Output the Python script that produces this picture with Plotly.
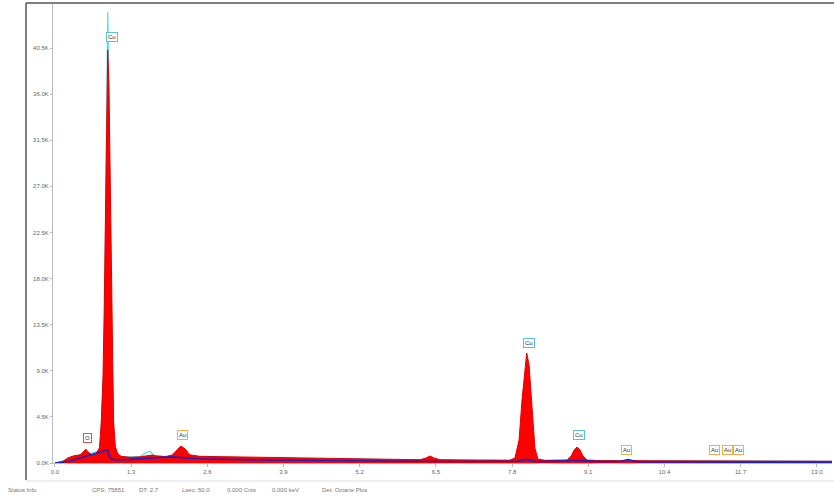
import plotly.graph_objects as go

# ---------------- data ----------------
# main spectrum (red, filled): energy keV / counts
spec_kev = [0.00, 0.12, 0.22, 0.32, 0.43, 0.49, 0.53, 0.56, 0.63, 0.70, 0.76, 0.79, 0.82, 0.84, 0.86,
            0.88, 0.90, 0.92, 0.94, 0.96, 0.98, 1.00, 1.03, 1.07, 1.13, 1.28, 1.45, 1.59, 1.66, 1.72, 1.88,
            2.00, 2.08, 2.15, 2.22, 2.30, 2.47, 2.99, 3.67, 4.52, 5.55, 6.23, 6.33, 6.40, 6.47, 6.57,
            7.25, 7.76, 7.85, 7.92, 7.97, 8.02, 8.05, 8.09, 8.14, 8.19, 8.24, 8.36, 8.74, 8.81, 8.86,
            8.91, 8.96, 9.01, 9.08, 9.30, 9.64, 9.78, 9.98, 11.00, 11.69, 13.26]
spec_cnt = [0, 100, 500, 700, 800, 1100, 1350, 1100, 800, 900, 1500, 4000, 8500, 15000, 24000,
            34500, 40300, 37000, 28500, 18000, 9000, 4000, 1600, 900, 650, 550, 600, 700, 780, 700, 620,
            780, 1270, 1660, 1370, 800, 650, 600, 520, 420, 360, 320, 480, 680, 480, 320,
            280, 270, 490, 2250, 6150, 9560, 10740, 9560, 5170, 1460, 390, 260, 290, 680, 1270,
            1560, 1270, 680, 290, 230, 220, 250, 220, 190, 180, 170]

# background / fit (blue line)
bg_kev = [0.00, 0.17, 0.26, 0.43, 0.60, 0.77, 0.89, 0.94, 1.02, 1.28, 1.62, 1.96, 2.17, 2.47, 3.50,
          5.03, 6.74, 7.90, 8.05, 8.20, 8.28, 8.91, 9.30, 9.65, 9.78, 9.90, 9.98, 13.26]
bg_cnt = [0, 100, 200, 490, 780, 1070, 1270, 490, 290, 350, 450, 600, 520, 420, 300,
          200, 150, 170, 350, 170, 130, 260, 130, 160, 330, 160, 100, 70]

# overlay spectrum (cyan outline)
ov_kev = [0.00, 0.50, 0.77, 0.84, 0.88, 0.90, 0.92, 0.96, 1.01, 1.10, 1.45, 1.55, 1.62, 1.70, 2.00,
          3.00, 6.00, 8.00, 13.26]
ov_cnt = [0, 800, 1200, 10000, 35000, 44000, 36000, 12000, 1500, 600, 600, 1000, 1150, 700, 600,
          500, 300, 250, 150]

# peak labels
lbl_text = ["O", "Cu", "Au", "Cu", "Cu", "Au", "Au", "Au", "Au"]
lbl_kev = [0.56, 0.97, 2.18, 8.09, 8.94, 9.76, 11.25, 11.47, 11.66]
lbl_cnt = [2440, 41600, 2730, 11700, 2730, 1270, 1270, 1270, 1270]
lbl_col = ["#e05050", "#5bc0de", "#f0ad4e", "#5bc0de", "#5bc0de", "#f0ad4e", "#f0ad4e", "#f0ad4e", "#f0ad4e"]

x_ticks = [0.0, 1.3, 2.6, 3.9, 5.2, 6.5, 7.8, 9.1, 10.4, 11.7, 13.0]
x_labels = ["0.0", "1.3", "2.6", "3.9", "5.2", "6.5", "7.8", "9.1", "10.4", "11.7", "13.0"]
y_ticks = [0, 4500, 9000, 13500, 18000, 22500, 27000, 31500, 36000, 40500]
y_labels = ["0.0K", "4.5K", "9.0K", "13.5K", "18.0K", "22.5K", "27.0K", "31.5K", "36.0K", "40.5K"]

status_text = ["Status Info", "CPS: 75851", "DT: 2.7", "Lsec: 50.0", "0.000 Cnts", "0.000 keV", "Det: Octane Plus"]
status_px = [6, 90, 137, 180, 225, 270, 320]

# ---------------- layout helpers ----------------
W, H = 834, 499
L, R, T, B = 53, 2, 4, 36
PW, PH = W - L - R, H - T - B


def px(x):
    return (x - L) / PW


def py(y):
    return (H - B - y) / PH


fig = go.Figure()
fig.add_trace(go.Scatter(x=ov_kev, y=ov_cnt, mode="lines",
                         line=dict(color="#40e0f0", width=1.2), hoverinfo="skip"))
fig.add_trace(go.Scatter(x=spec_kev, y=spec_cnt, mode="lines", fill="tozeroy",
                         fillcolor="#ff0000", line=dict(color="#e00000", width=1), hoverinfo="skip"))
fig.add_trace(go.Scatter(x=bg_kev, y=bg_cnt, mode="lines",
                         line=dict(color="#2020c0", width=1.6), hoverinfo="skip"))

for t, xk, yc, c in zip(lbl_text, lbl_kev, lbl_cnt, lbl_col):
    fig.add_annotation(x=xk, y=yc, text=t, showarrow=False,
                       font=dict(size=6, color="#333333", family="Liberation Sans"),
                       bordercolor=c, borderwidth=1, borderpad=1, bgcolor="white")

for t, xp in zip(status_text, status_px):
    fig.add_annotation(xref="paper", yref="paper", x=px(xp), y=py(490), text=t, showarrow=False,
                       xanchor="left", yanchor="middle",
                       font=dict(size=6, color="#777777", family="Liberation Sans"))

shapes = [
    dict(type="line", xref="paper", yref="paper", x0=px(26), x1=px(834), y0=py(3), y1=py(3),
         line=dict(color="#555555", width=1.5)),
    dict(type="line", xref="paper", yref="paper", x0=px(26), x1=px(26), y0=py(3), y1=py(480),
         line=dict(color="#555555", width=1.5)),
    dict(type="line", xref="paper", yref="paper", x0=px(26), x1=px(834), y0=py(481), y1=py(481),
         line=dict(color="#dddddd", width=1)),
]

fig.update_layout(
    width=W, height=H, margin=dict(l=L, r=R, t=T, b=B),
    paper_bgcolor="white", plot_bgcolor="white", showlegend=False,
    shapes=shapes,
    xaxis=dict(range=[-0.034, 13.26], tickvals=x_ticks, ticktext=x_labels, showgrid=False,
               zeroline=False, showline=True, linecolor="#bbbbbb", ticks="outside", ticklen=3,
               tickcolor="#bbbbbb", tickfont=dict(size=6, color="#666666", family="Liberation Sans")),
    yaxis=dict(range=[0, 44800], tickvals=y_ticks, ticktext=y_labels, showgrid=False,
               zeroline=False, showline=True, linecolor="#bbbbbb", ticks="outside", ticklen=2,
               tickcolor="#bbbbbb", tickfont=dict(size=6, color="#666666", family="Liberation Sans")),
)

fig.write_html("out.html", config={"displayModeBar": False},
               post_script="document.body.style.margin='0';document.body.style.overflow='hidden';")
